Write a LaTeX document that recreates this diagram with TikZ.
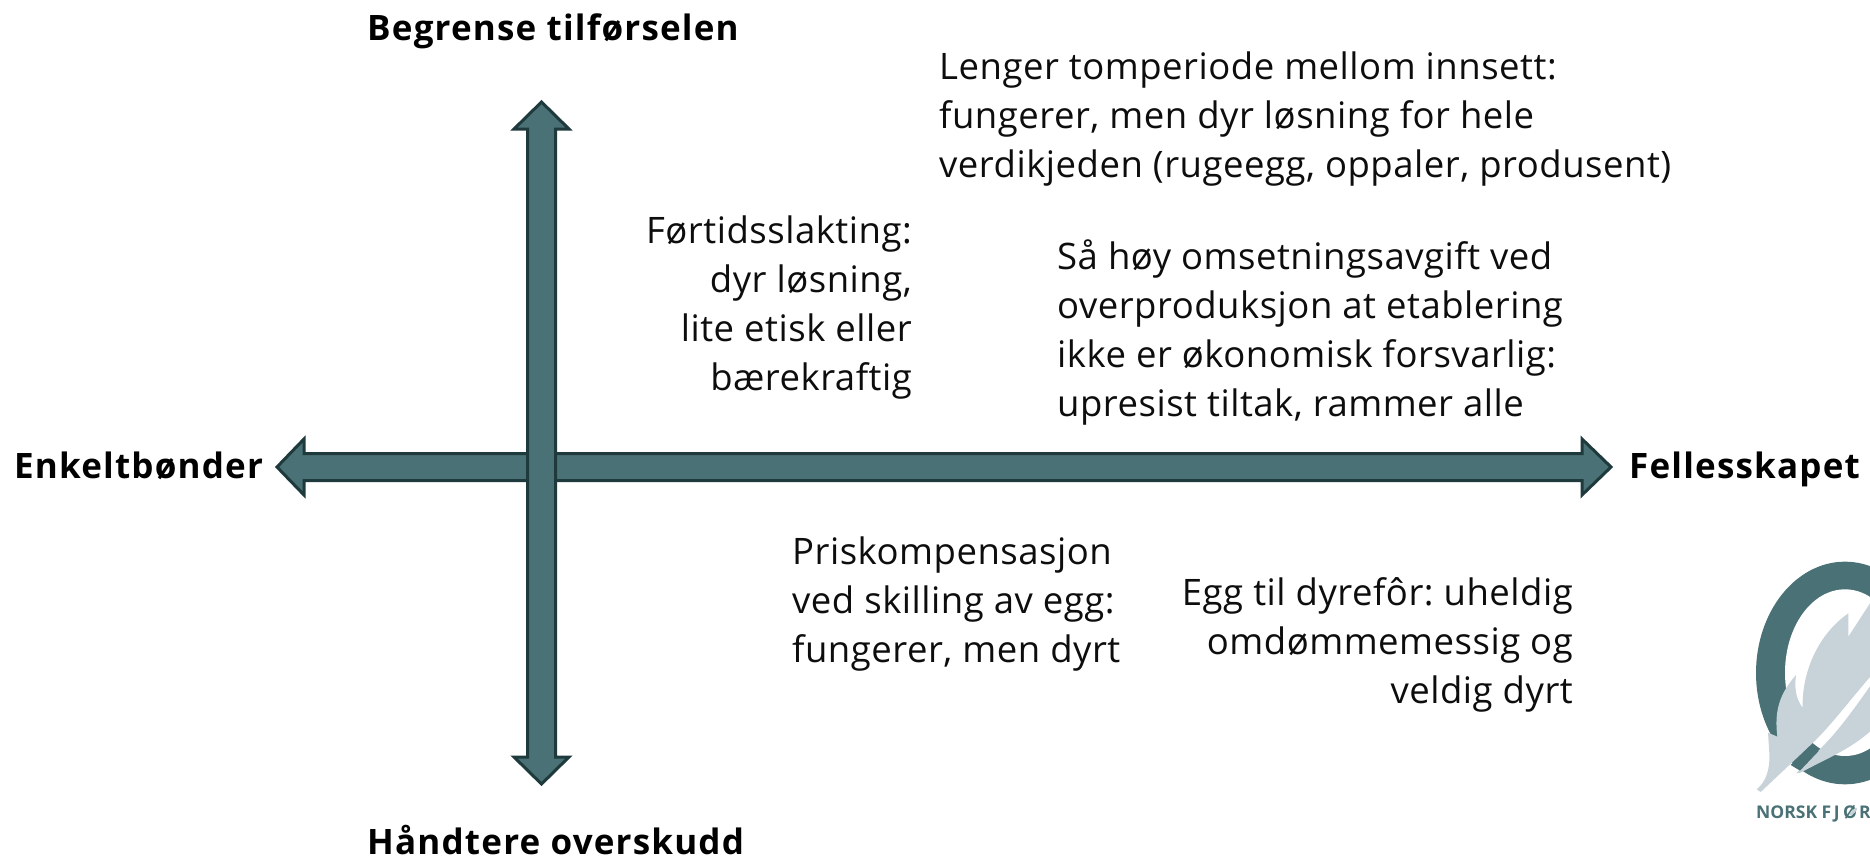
\documentclass[tikz,border=0pt]{standalone}
\usepackage{fontspec}
\setmainfont{Open Sans}
\definecolor{axisfill}{HTML}{4A7175}
\definecolor{axisline}{HTML}{1F3A3D}
\definecolor{feather}{HTML}{C7D2D9}
\definecolor{bodytext}{HTML}{0D0D0D}
\frenchspacing
\tikzset{
  axis/.style={fill=axisfill,draw=axisline,line width=3pt,miter limit=10},
  head/.style={font=\fontsize{35}{40}\selectfont\bfseries\addfontfeature{LetterSpace=3.4},text=black,inner sep=0pt,anchor=base west},
  body/.style={font=\fontsize{36.5}{49}\selectfont\addfontfeature{LetterSpace=1.4},text=bodytext,inner sep=0pt},
}
\begin{document}
\begin{tikzpicture}[x=1pt,y=-1pt]
\useasboundingbox (0,0) rectangle (1870,859);
\clip (0,0) rectangle (1870,859);
% axes
\draw[axis] (277,467) -- (304,439) -- (304,453.5) -- (1582,453.5) -- (1582,439) -- (1611,467) -- (1582,495) -- (1582,480.5) -- (304,480.5) -- (304,495) -- cycle;
\draw[axis] (541.5,102) -- (569,129) -- (555.5,129) -- (555.5,757) -- (569,757) -- (541.5,784) -- (514,757) -- (527.5,757) -- (527.5,129) -- (514,129) -- cycle;
% headings
\node[head] (top) at (367,41) {Begrense tilførselen};
\node[head] (bottom) at (367,854) {Håndtere overskudd};
\node[head] (left) at (14,478) {Enkeltbønder};
\node[head] (right) at (1629,478) {Fellesskapet};
% body
\node[body,align=left,anchor=north west] (a) at (939,51.5) {Lenger tomperiode mellom innsett:\\fungerer, men dyr løsning for hele\\verdikjeden (rugeegg, oppaler, produsent)};
\node[body,align=right,anchor=north east] (b) at (912,215.5) {Førtidsslakting:\\dyr løsning,\\lite etisk eller\\bærekraftig};
\node[body,align=left,anchor=north west] (c) at (1057,240) {Så høy omsetningsavgift ved\\overproduksjon at etablering\\ikke er økonomisk forsvarlig:\\upresist tiltak, rammer alle};
\node[body,align=left,anchor=north west] (d) at (792,537) {Priskompensasjon\\ved skilling av egg:\\fungerer, men dyrt};
\node[body,align=right,anchor=north east] (e) at (1573,577) {Egg til dyrefôr: uheldig\\omdømmemessig og\\veldig dyrt};
% logo
\begin{scope}[shift={(1690,540)},x=0.3333pt,y=-0.3333pt]
\fill[axisfill] (465,399) ellipse [x radius=267,y radius=334];
\fill[white] (465,398) ellipse [x radius=180,y radius=250];
\fill[feather] (200,748) .. controls (228,725) and (240,690) .. (238,640) -- (234,578) -- (262,590) .. controls (252,510) and (270,460) .. (318,405) .. controls (312,450) and (320,480) .. (338,503) .. controls (335,410) and (375,290) .. (475,220) -- (475,290) -- (540,190) -- (545,190) -- (545,405) .. controls (480,480) and (420,560) .. (365,612) -- (212,756) -- cycle;
\fill[feather] (318,700) -- (332,698) .. controls (400,660) and (480,630) .. (545,570) -- (545,432) .. controls (490,510) and (440,580) .. (385,632) -- cycle;
\fill[axisfill] (302,675) -- (360,618) -- (386,633) -- (330,692) -- cycle;
\node[font=\fontsize{17.5}{18}\selectfont\bfseries,text=axisfill,inner sep=0pt,anchor=base west] (logo) at (198,835) {NORSK F\kern2.5pt J\kern3.5pt Ø\kern2pt R};
\fill[feather,rotate around={45:(490,815)}] (490,815) ellipse [x radius=16,y radius=5];
\end{scope}
\end{tikzpicture}
\end{document}
